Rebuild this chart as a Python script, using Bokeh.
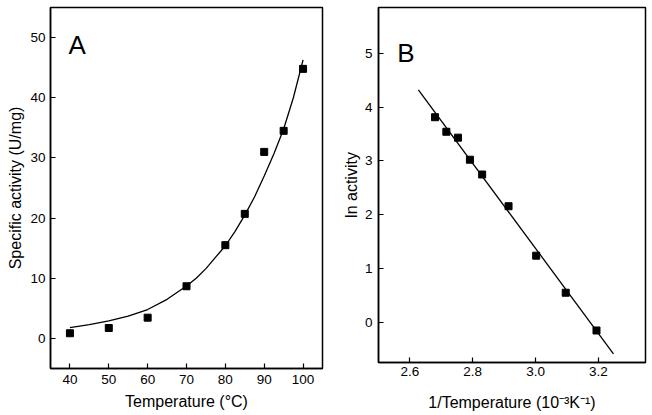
from bokeh.plotting import figure
from bokeh.layouts import row
from bokeh.models import Range1d, FixedTicker, PrintfTickFormatter, Label
from bokeh.embed import file_html
from bokeh.resources import INLINE

# Panel A data
temp_c = [40, 50, 60, 70, 80, 85, 90, 95, 100]
activity = [0.86, 1.73, 3.45, 8.67, 15.5, 20.7, 31.0, 34.5, 44.8]
# fitted curve
fit_t = [40, 45, 50, 55, 60, 65, 70, 72.5, 75, 77.5, 80, 82.5, 85, 87.5, 90, 92.5, 95, 97.5, 100]
fit_act = [1.8, 2.3, 2.9, 3.7, 4.8, 6.5, 8.7, 10.0, 11.6, 13.5, 15.4, 17.8, 20.5, 23.5,
           27.0, 30.7, 34.8, 40.0, 46.3]
a_xticks = [40, 50, 60, 70, 80, 90, 100]
a_yticks = [0, 10, 20, 30, 40, 50]

# Panel B data
inv_t = [2.680, 2.716, 2.753, 2.791, 2.830, 2.914, 3.002, 3.096, 3.194]
ln_act = [3.81, 3.54, 3.43, 3.02, 2.745, 2.155, 1.236, 0.547, -0.155]
line_x = [2.627, 3.248]
line_y = [4.32, -0.59]
b_xticks = [2.6, 2.8, 3.0, 3.2]
b_yticks = [0, 1, 2, 3, 4, 5]

FONT = "Liberation Sans"


def style(p):
    p.xgrid.visible = False
    p.ygrid.visible = False
    p.outline_line_color = "black"
    p.outline_line_width = 1.5
    p.background_fill_color = "white"
    p.border_fill_color = "white"
    for ax in (p.xaxis[0], p.yaxis[0]):
        ax.axis_line_width = 1.5
        ax.axis_line_color = "black"
        ax.major_tick_in = 5
        ax.major_tick_out = 0
        ax.major_tick_line_width = 1.2
        ax.minor_tick_line_color = None
        ax.major_label_text_font = FONT
        ax.major_label_text_font_size = "13.5px"
        ax.major_label_text_color = "black"
        ax.axis_label_text_font = FONT
        ax.axis_label_text_font_size = "16px"
        ax.axis_label_text_font_style = "normal"
        ax.axis_label_text_color = "black"


pa = figure(frame_width=272, frame_height=361, output_backend="svg",
            toolbar_location=None, x_range=Range1d(35, 105), y_range=Range1d(-5, 55),
            min_border_left=50, min_border_right=8, min_border_top=7, min_border_bottom=47)
style(pa)
pa.xaxis.major_label_standoff = 6
pa.xaxis.axis_label_standoff = 6
pa.yaxis.major_label_standoff = 5
pa.yaxis.axis_label_standoff = 3
pa.xaxis.ticker = FixedTicker(ticks=a_xticks)
pa.yaxis.ticker = FixedTicker(ticks=a_yticks)
pa.xaxis.axis_label = "Temperature (°C)"
pa.yaxis.axis_label = "Specific activity (U/mg)"
pa.line(fit_t, fit_act, line_color="black", line_width=1.3)
pa.scatter(temp_c, activity, marker="square", size=7, color="black")
pa.add_layout(Label(x=39.63, y=48.7, text="A", text_font=FONT, text_font_size="26px",
                    text_baseline="alphabetic", text_color="black"))

pb = figure(frame_width=267, frame_height=355, output_backend="svg",
            toolbar_location=None, x_range=Range1d(2.5, 3.35), y_range=Range1d(-0.75, 5.85),
            min_border_left=48, min_border_right=7, min_border_top=7, min_border_bottom=53)
style(pb)
pb.xaxis.major_label_standoff = 4
pb.xaxis.axis_label_standoff = 15
pb.yaxis.major_label_standoff = 6
pb.yaxis.axis_label_standoff = 2
pb.xaxis.ticker = FixedTicker(ticks=b_xticks)
pb.xaxis.formatter = PrintfTickFormatter(format="%.1f")
pb.yaxis.ticker = FixedTicker(ticks=b_yticks)
pb.xaxis.axis_label = "1/Temperature (10⁻³K⁻¹)"
pb.yaxis.axis_label = "ln activity"
pb.line(line_x, line_y, line_color="black", line_width=1.3)
pb.scatter(inv_t, ln_act, marker="square", size=7, color="black")
pb.add_layout(Label(x=2.56, y=5.0, text="B", text_font=FONT, text_font_size="26px",
                    text_baseline="alphabetic", text_color="black"))

layout = row(pa, pb, spacing=0)
open("out.html", "w").write(file_html(layout, INLINE))
